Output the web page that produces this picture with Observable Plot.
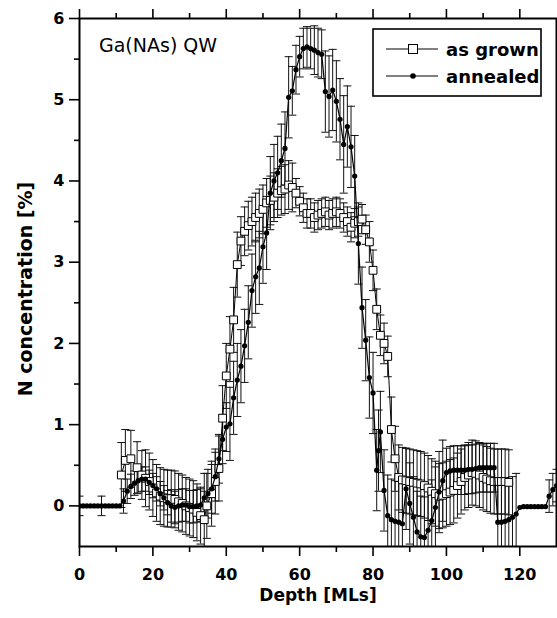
<!DOCTYPE html>
<html>
<head>
<meta charset="utf-8">
<script src="https://cdn.jsdelivr.net/npm/d3@7"></script>
<script src="https://cdn.jsdelivr.net/npm/@observablehq/plot@0.6"></script>
<style>
  html, body { margin: 0; padding: 0; background: white; }
  #chart { width: 557px; height: 618px; }
</style>
</head>
<body>
<div id="chart"></div>
<script>
// ---- data ----
const annDepth = [0,1,2,3,4,5,6,7,8,9,10,11,12,13,14,15,16,17,18,19,20,21,22,23,24,25,26,27,28,29,30,31,32,33,34,35,36,37,38,39,40,41,42,43,44,45,46,47,48,49,50,51,52,53,54,55,56,57,58,59,60,61,62,63,64,65,66,67,68,69,70,71,72,73,74,75,76,77,78,79,80,81,81.5,82,83,84,85,86,87,88,89,90,91,92,93,94,95,96,97,98,99,100,101,102,103,104,105,106,107,108,109,110,111,112,113,114,115,116,117,118,119,120,121,122,123,124,125,126,127,128,129,130];
const annValue = [0,0,0,0,0,0,0,0,0,0,0,0,0.06,0.18,0.24,0.28,0.31,0.33,0.33,0.29,0.25,0.21,0.15,0.10,0.04,0.00,-0.02,0.00,0.01,0.01,-0.01,-0.01,0.00,0.01,0.10,0.15,0.21,0.36,0.58,0.82,0.97,1.01,1.33,1.55,1.72,1.97,2.26,2.65,2.82,2.93,3.19,3.36,3.85,4.00,4.10,4.25,4.40,5.03,5.11,5.37,5.53,5.63,5.65,5.63,5.61,5.58,5.56,5.10,5.04,5.12,4.98,4.76,4.45,4.67,4.42,4.06,3.23,2.44,2.04,1.58,1.39,0.44,0.68,0.91,0.19,-0.12,-0.17,-0.19,-0.20,-0.22,0.21,0.03,-0.14,-0.32,-0.38,-0.39,-0.30,-0.18,-0.02,0.17,0.31,0.41,0.43,0.44,0.44,0.44,0.44,0.45,0.45,0.46,0.47,0.47,0.47,0.47,0.47,-0.20,-0.20,-0.19,-0.17,-0.14,-0.10,-0.02,-0.01,-0.01,-0.01,-0.01,-0.01,-0.01,-0.01,0.12,0.20,0.25];
const annError = [0.12,0,0,0,0,0,0.12,0,0,0,0,0,0.15,0.15,0.15,0.15,0.15,0.15,0.15,0.15,0.15,0.15,0.15,0.15,0.15,0.2,0.2,0.2,0.2,0.2,0.2,0.2,0.2,0.2,0.3,0.3,0.3,0.3,0.3,0.3,0.3,0.45,0.45,0.45,0.45,0.45,0.45,0.45,0.45,0.45,0.45,0.45,0.45,0.45,0.45,0.45,0.45,0.5,0.3,0.3,0.25,0.25,0.25,0.25,0.3,0.3,0.3,0.5,0.5,0.5,0.5,0.5,0.6,0.5,0.5,0.5,0.5,0.5,0.5,0.5,0.5,0.5,0.5,0.5,0.5,0.5,0.5,0.5,0.5,0.5,0.5,0.5,0.5,0.5,0.5,0.5,0.5,0.5,0.5,0.5,0.5,0.3,0.3,0.3,0.3,0.3,0.3,0.3,0.3,0.3,0.3,0.3,0.3,0.3,0.3,0.5,0.5,0.5,0.5,0.5,0.5,0,0,0,0,0,0,0,0,0.2,0.2,0.2];

const grownDepth = [11.4,12.5,14,15.7,17,18,19,20,21,22,23,24,25,26,27,28,29,30,31,32,33,34,34.7,36,37,38,39,40,41,42,43,44,45,46,47,48,49,50,51,52,53,54,55,56,57,58,59,60,61,62,63,64,65,66,67,68,69,70,71,72,73,74,75,76,77,78,79,80,81,82,83,84,85,86,87,88,89,90,91,92,93,94,95,96,97,98,99,100,101,102,103,104,105,106,107,108,109,110,111,112,113,114,115,116,117];
const grownValue = [0.38,0.56,0.58,0.47,0.38,0.34,0.30,0.22,0.16,0.12,0.10,0.09,0.09,0.08,0.05,0.03,0.00,-0.02,-0.04,-0.08,-0.12,-0.17,0.00,0.15,0.30,0.46,1.08,1.60,1.93,2.29,2.97,3.26,3.38,3.45,3.50,3.55,3.60,3.65,3.73,3.76,3.80,3.85,3.88,3.90,3.95,3.92,3.85,3.75,3.67,3.60,3.60,3.55,3.58,3.60,3.62,3.58,3.60,3.62,3.60,3.55,3.50,3.43,3.48,3.50,3.53,3.40,3.25,2.90,2.42,2.10,2.00,1.84,0.94,0.58,0.35,0.32,0.31,0.30,0.29,0.28,0.27,0.25,0.22,0.18,0.15,0.12,0.13,0.15,0.17,0.19,0.25,0.30,0.35,0.38,0.41,0.40,0.38,0.35,0.33,0.31,0.30,0.30,0.30,0.30,0.29];
const grownError = [0.4,0.38,0.35,0.32,0.3,0.35,0.35,0.35,0.35,0.35,0.35,0.35,0.35,0.35,0.35,0.35,0.35,0.35,0.35,0.35,0.35,0.35,0.4,0.4,0.4,0.4,0.4,0.4,0.4,0.4,0.4,0.3,0.3,0.3,0.3,0.3,0.3,0.3,0.3,0.3,0.3,0.3,0.3,0.3,0.3,0.3,0.18,0.18,0.18,0.18,0.18,0.18,0.18,0.18,0.18,0.18,0.18,0.18,0.18,0.18,0.18,0.18,0.18,0.18,0.18,0.18,0.25,0.25,0.25,0.25,0.25,0.25,0.4,0.4,0.4,0.4,0.4,0.4,0.4,0.4,0.4,0.4,0.4,0.4,0.4,0.4,0.4,0.4,0.4,0.4,0.4,0.4,0.4,0.4,0.4,0.4,0.4,0.4,0.4,0.4,0.4,0.4,0.4,0.4,0.4];

const xMajorTicks = [0,20,40,60,80,100,120];
const xMinorTicks = [10,30,50,70,90,110];
const yMajorTicks = [0,1,2,3,4,5,6];
const yMinorTicks = [0.5,1.5,2.5,3.5,4.5,5.5];
const seriesNames = ["as grown","annealed"];
const sampleLabel = "Ga(NAs) QW";
const xLabel = "Depth [MLs]";
const yLabel = "N concentration [%]";

// ---- tables built from the arrays ----
const annealed = annDepth.map((d,i) => ({d, v: annValue[i], e: annError[i]}));
const grown = grownDepth.map((d,i) => ({d, v: grownValue[i], e: grownError[i]}));
const capHalf = 1.1; // cap half-width in ML
const caps = rows => rows.filter(r => r.e > 0).flatMap(r => [
  {x1: r.d - capHalf, x2: r.d + capHalf, y: r.v + r.e},
  {x1: r.d - capHalf, x2: r.d + capHalf, y: r.v - r.e}
]);
const bars = rows => rows.filter(r => r.e > 0);

const font = "DejaVu Sans";

const chart = Plot.plot({
  width: 557,
  height: 618,
  marginLeft: 79,
  marginRight: 1,
  marginTop: 18,
  marginBottom: 72,
  x: {domain: [0,130], axis: null},
  y: {domain: [-0.5,6], axis: null},
  style: {fontFamily: font, background: "white", color: "black", overflow: "visible"},
  marks: [
    // as grown
    Plot.ruleX(bars(grown), {x: "d", y1: r => r.v - r.e, y2: r => r.v + r.e, stroke: "#111", strokeWidth: 1, clip: true}),
    Plot.link(caps(grown), {x1: "x1", x2: "x2", y1: "y", y2: "y", stroke: "#111", strokeWidth: 1, clip: true}),
    // annealed
    Plot.ruleX(bars(annealed), {x: "d", y1: r => r.v - r.e, y2: r => r.v + r.e, stroke: "#111", strokeWidth: 1, clip: true}),
    Plot.link(caps(annealed), {x1: "x1", x2: "x2", y1: "y", y2: "y", stroke: "#111", strokeWidth: 1, clip: true}),
    Plot.line(grown, {x: "d", y: "v", stroke: "black", strokeWidth: 1, clip: true}),
    Plot.dot(grown, {x: "d", y: "v", symbol: "square", r: 4.4, fill: "white", stroke: "black", strokeWidth: 1, clip: true}),
    Plot.line(annealed, {x: "d", y: "v", stroke: "black", strokeWidth: 1.2, clip: true}),
    Plot.dot(annealed, {x: "d", y: "v", r: 2.6, fill: "black", stroke: "none", clip: true}),
    // axes
    Plot.axisX({anchor: "bottom", ticks: xMajorTicks, tickSize: 10, tickPadding: 12, tickFormat: d => String(d), fontSize: 16, fontWeight: "bold", strokeWidth: 1.6, label: null}),
    Plot.axisX({anchor: "bottom", ticks: xMinorTicks, tickSize: 6, tickFormat: () => "", strokeWidth: 1.6, label: null}),
    Plot.axisX({anchor: "top", ticks: xMajorTicks, tickSize: 10, tickFormat: () => "", strokeWidth: 1.6, label: null}),
    Plot.axisX({anchor: "top", ticks: xMinorTicks, tickSize: 6, tickFormat: () => "", strokeWidth: 1.6, label: null}),
    Plot.axisY({anchor: "left", ticks: yMajorTicks, tickSize: 10, tickPadding: 5, tickFormat: d => String(d), fontSize: 16, fontWeight: "bold", strokeWidth: 1.6, label: null}),
    Plot.axisY({anchor: "left", ticks: yMinorTicks, tickSize: 5, tickFormat: () => "", strokeWidth: 1.6, label: null}),
    Plot.frame({stroke: "black", strokeWidth: 2})
  ]
});

document.getElementById("chart").appendChild(chart);

// ---- annotations: axis titles, sample label, legend ----
const svg = d3.select(chart);
svg.append("text")
  .attr("x", 318).attr("y", 601)
  .attr("text-anchor", "middle")
  .attr("font-family", font).attr("font-weight", "bold").attr("font-size", 17)
  .attr("fill", "black")
  .text(xLabel);
svg.append("text")
  .attr("transform", "translate(32,289) rotate(-90)")
  .attr("text-anchor", "middle")
  .attr("font-family", font).attr("font-weight", "bold").attr("font-size", 19)
  .attr("fill", "black")
  .text(yLabel);
svg.append("text")
  .attr("x", 99).attr("y", 52)
  .attr("text-anchor", "start")
  .attr("font-family", font).attr("font-size", 19)
  .attr("fill", "black")
  .text(sampleLabel);

const lg = svg.append("g");
lg.append("rect").attr("x", 373).attr("y", 29).attr("width", 168).attr("height", 67)
  .attr("fill", "white").attr("stroke", "black").attr("stroke-width", 1.6);
[49, 76].forEach((ly, i) => {
  lg.append("line").attr("x1", 386).attr("x2", 438).attr("y1", ly).attr("y2", ly)
    .attr("stroke", "black").attr("stroke-width", 1);
  if (i === 0) {
    lg.append("rect").attr("x", 408.5).attr("y", ly - 4.5).attr("width", 9).attr("height", 9)
      .attr("fill", "white").attr("stroke", "black").attr("stroke-width", 1);
  } else {
    lg.append("circle").attr("cx", 413).attr("cy", ly).attr("r", 2.8).attr("fill", "black");
  }
  lg.append("text").attr("x", 446).attr("y", ly + 7)
    .attr("text-anchor", "start")
    .attr("font-family", font).attr("font-weight", "bold").attr("font-size", 18)
    .attr("fill", "black").text(seriesNames[i]);
});
</script>
</body>
</html>
